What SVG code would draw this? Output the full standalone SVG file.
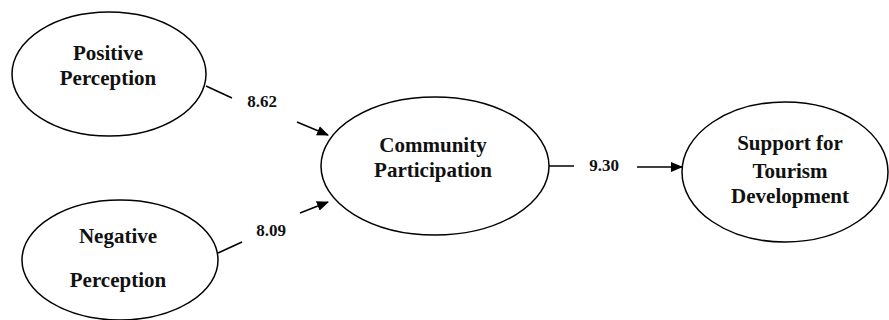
<svg xmlns="http://www.w3.org/2000/svg" width="889" height="320" viewBox="0 0 889 320">
<style>
.node ellipse{fill:#fff;stroke:#000;stroke-width:1.5}
.node text{font-family:"Liberation Serif","Times New Roman",serif;font-weight:bold;font-size:21px;text-anchor:middle;fill:#111}
.lbl{font-family:"Liberation Serif","Times New Roman",serif;font-weight:bold;font-size:17px;text-anchor:middle;fill:#111}
.edge{stroke:#000;stroke-width:1.5;fill:none}
</style>
<defs>
<marker id="ah" markerWidth="12" markerHeight="10" refX="11" refY="5" orient="auto" markerUnits="userSpaceOnUse">
<path d="M0,0 L12,5 L0,10 Z" fill="#000"/>
</marker>
</defs>
<rect width="889" height="320" fill="#fff"/>
<g id="connectors">
<line class="edge" x1="206" y1="86" x2="232" y2="98"/>
<line class="edge" x1="297" y1="122" x2="328" y2="135" marker-end="url(#ah)"/>
<line class="edge" x1="218" y1="253" x2="242" y2="242"/>
<line class="edge" x1="300" y1="213" x2="328" y2="202" marker-end="url(#ah)"/>
<line class="edge" x1="549" y1="166" x2="574" y2="166"/>
<line class="edge" x1="637" y1="167" x2="682" y2="167" marker-end="url(#ah)"/>
<text class="lbl" x="262" y="107">8.62</text>
<text class="lbl" x="271" y="236">8.09</text>
<text class="lbl" x="604" y="171">9.30</text>
</g>
<g id="positive" class="node">
<ellipse cx="109" cy="74" rx="97" ry="62"/>
<text x="108" y="60">Positive</text>
<text x="108" y="85">Perception</text>
</g>
<g id="negative" class="node">
<ellipse cx="120" cy="260" rx="98" ry="60"/>
<text x="118" y="243">Negative</text>
<text x="118" y="287">Perception</text>
</g>
<g id="community" class="node">
<ellipse cx="435" cy="166" rx="114" ry="69"/>
<text x="433" y="152">Community</text>
<text x="433" y="177">Participation</text>
</g>
<g id="support" class="node">
<ellipse cx="785" cy="172" rx="103" ry="70"/>
<text x="790" y="150">Support for</text>
<text x="790" y="178">Tourism</text>
<text x="790" y="203">Development</text>
</g>
</svg>
